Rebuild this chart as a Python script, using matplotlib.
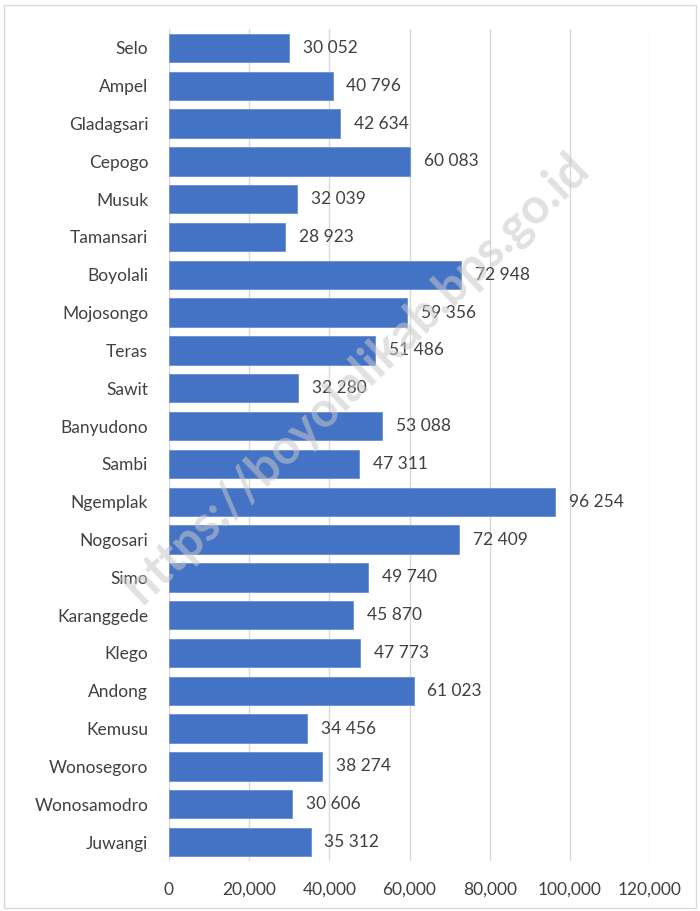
import matplotlib.pyplot as plt
from matplotlib.patches import Rectangle

plt.rcParams.update({'font.family': ['Lato', 'DejaVu Sans'], 'font.size': 12})

kecamatan = ["Selo", "Ampel", "Gladagsari", "Cepogo", "Musuk", "Tamansari",
             "Boyolali", "Mojosongo", "Teras", "Sawit", "Banyudono", "Sambi",
             "Ngemplak", "Nogosari", "Simo", "Karanggede", "Klego", "Andong",
             "Kemusu", "Wonosegoro", "Wonosamodro", "Juwangi"]
penduduk = [30052, 40796, 42634, 60083, 32039, 28923,
            72948, 59356, 51486, 32280, 53088, 47311,
            96254, 72409, 49740, 45870, 47773, 61023,
            34456, 38274, 30606, 35312]
x_ticks = [0, 20000, 40000, 60000, 80000, 100000, 120000]

text_col = "#404040"

fig = plt.figure(figsize=(7, 9.11), dpi=100)
ax = fig.add_axes([0.2414, 0.0549, 0.9286 - 0.2414, 0.9682 - 0.0549])

pos = list(range(len(kecamatan)))
ax.barh(pos, penduduk, height=0.75, color="#4472C4", edgecolor="#6b8fd3",
        linewidth=0.6, zorder=2)
for p, v in zip(pos, penduduk):
    ax.annotate(f"{v:,}".replace(",", " "), (v, p), xytext=(10, 0),
                textcoords="offset points", va="center", ha="left",
                color=text_col, fontsize=12.5)

ax.set_xlim(0, 120000)
ax.set_ylim(len(kecamatan) - 0.5, -0.5)
ax.set_yticks(pos)
ax.set_yticklabels(kecamatan, color=text_col)
ax.set_xticks(x_ticks)
ax.set_xticklabels([f"{t:,}" for t in x_ticks], color=text_col)
ax.tick_params(length=0, labelsize=12.5)
ax.tick_params(axis="y", pad=15)
ax.tick_params(axis="x", pad=15)
ax.grid(axis="x", color="#d9d9d9", linewidth=1, zorder=0)
for s in ax.spines.values():
    s.set_visible(False)

fig.text(0.51, 0.585, "https://boyolalikab.bps.go.id", rotation=44,
         ha="center", va="center", fontsize=35, fontweight="bold",
         color="#c8c8c8", alpha=0.55, zorder=5)

fig.patches.append(Rectangle((0.006, 0.003), 0.988, 0.992, transform=fig.transFigure,
                             fill=False, edgecolor="#d9d9d9", linewidth=1))

fig.savefig("out.png", dpi=100)
